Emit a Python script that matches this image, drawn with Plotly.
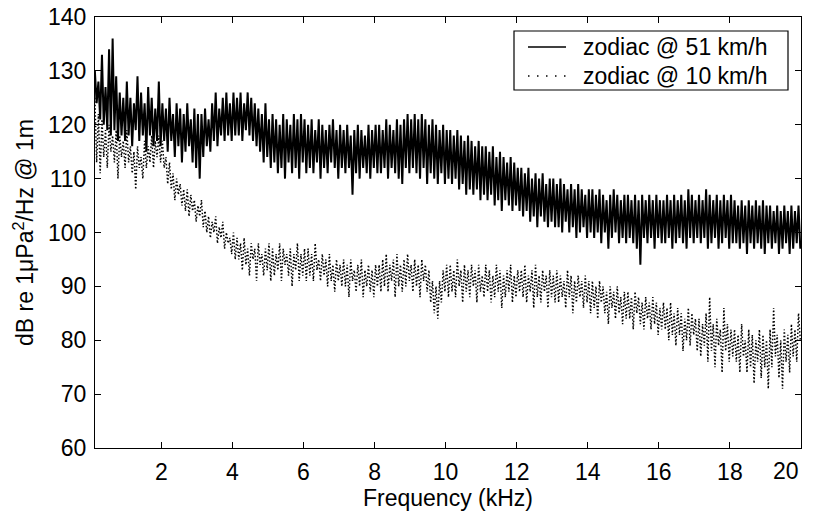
import numpy as np
import plotly.graph_objects as go

# frequency grid (kHz): first bin and bin spacing
F_START = 0.13
F_STEP = 0.05

# zodiac @ 51 km/h  (dB re 1uPa^2/Hz @ 1m)
db_51 = [
    130, 124, 128, 121, 133, 120, 127, 119, 134, 118, 136, 119, 129, 117, 126, 118, 125, 117, 128, 118,
    125, 116, 124, 119, 129, 117, 126, 118, 124, 115, 127, 118, 125, 116, 123, 117, 128, 116, 124, 117,
    123, 115, 125, 117, 122, 114, 124, 116, 123, 113, 122, 115, 124, 116, 121, 113, 123, 112, 122, 110,
    122, 114, 123, 116, 121, 115, 124, 117, 126, 116, 123, 118, 125, 117, 126, 118, 124, 117, 126, 118,
    125, 118, 126, 117, 124, 119, 126, 118, 125, 117, 124, 116, 123, 115, 122, 113, 124, 114, 121, 112,
    122, 113, 121, 111, 120, 112, 122, 110, 121, 113, 120, 111, 122, 112, 121, 110, 122, 113, 121, 111,
    120, 112, 121, 111, 119, 113, 121, 110, 120, 112, 119, 111, 120, 113, 121, 112, 119, 110, 120, 112,
    119, 111, 120, 112, 118, 107, 119, 111, 120, 110, 119, 112, 118, 111, 120, 110, 119, 112, 120, 111,
    120, 111, 119, 112, 121, 110, 120, 112, 119, 111, 121, 110, 120, 109, 121, 112, 122, 111, 121, 112,
    122, 111, 121, 110, 122, 112, 121, 109, 120, 111, 121, 110, 120, 109, 119, 111, 120, 109, 119, 110,
    119, 109, 118, 110, 119, 108, 118, 109, 117, 107, 118, 108, 117, 107, 116, 108, 117, 106, 116, 107,
    116, 106, 115, 107, 116, 105, 114, 106, 115, 104, 114, 106, 113, 105, 114, 104, 113, 105, 112, 104,
    112, 103, 111, 104, 112, 102, 110, 103, 111, 101, 110, 103, 111, 102, 109, 101, 110, 102, 110, 101,
    109, 101, 110, 100, 109, 102, 108, 100, 109, 101, 108, 99, 109, 100, 108, 101, 107, 99, 108, 100,
    108, 99, 107, 100, 108, 98, 107, 100, 106, 97, 107, 99, 108, 100, 107, 98, 106, 99, 107, 98,
    107, 99, 106, 98, 107, 97, 106, 94, 107, 99, 106, 98, 107, 99, 106, 97, 107, 99, 106, 98,
    106, 98, 107, 99, 106, 97, 107, 98, 106, 99, 107, 98, 106, 97, 108, 99, 107, 98, 106, 99,
    107, 98, 106, 99, 108, 97, 107, 98, 106, 99, 107, 97, 106, 98, 107, 99, 106, 97, 107, 98,
    106, 98, 105, 97, 106, 98, 105, 96, 106, 98, 105, 97, 106, 98, 105, 97, 106, 96, 105, 98,
    105, 97, 104, 98, 105, 96, 104, 97, 105, 98, 104, 96, 105, 97, 104, 98, 105, 97,
]

# zodiac @ 10 km/h
db_10 = [
    125, 113, 122, 111, 121, 114, 119, 112, 120, 115, 118, 113, 119, 110, 118, 114, 117, 112, 119, 113,
    116, 111, 115, 108, 116, 112, 114, 110, 117, 112, 116, 113, 118, 112, 117, 114, 118, 113, 117, 112,
    114, 109, 113, 108, 111, 106, 110, 107, 109, 105, 108, 104, 108, 103, 107, 104, 106, 102, 105, 103,
    106, 101, 104, 100, 103, 99, 102, 100, 103, 98, 101, 99, 102, 97, 100, 98, 99, 96, 100, 95,
    99, 95, 98, 93, 99, 94, 97, 92, 98, 95, 97, 91, 98, 94, 96, 92, 97, 93, 98, 91,
    97, 92, 96, 93, 98, 91, 97, 94, 96, 92, 97, 90, 96, 93, 98, 91, 96, 92, 97, 91,
    97, 92, 96, 91, 98, 93, 95, 91, 96, 92, 95, 90, 96, 91, 94, 89, 95, 91, 94, 90,
    95, 90, 94, 88, 95, 91, 93, 89, 94, 90, 95, 88, 93, 90, 94, 89, 93, 88, 94, 90,
    94, 89, 95, 90, 96, 89, 94, 91, 95, 88, 96, 90, 94, 89, 95, 90, 96, 91, 94, 89,
    95, 90, 94, 88, 95, 91, 94, 89, 93, 87, 91, 85, 90, 84, 91, 87, 93, 89, 94, 88,
    94, 89, 93, 88, 95, 90, 93, 87, 94, 89, 93, 88, 94, 90, 93, 87, 94, 89, 92, 88,
    94, 89, 93, 87, 92, 88, 94, 89, 93, 86, 92, 88, 93, 89, 94, 87, 92, 88, 93, 89,
    93, 88, 94, 87, 92, 89, 93, 86, 94, 88, 92, 87, 93, 89, 92, 86, 93, 88, 92, 87,
    93, 87, 92, 88, 91, 86, 93, 88, 92, 85, 91, 87, 92, 88, 91, 86, 92, 87, 91, 85,
    91, 86, 90, 84, 91, 87, 90, 85, 89, 83, 90, 86, 89, 84, 90, 85, 88, 83, 89, 84,
    89, 84, 88, 82, 89, 85, 88, 83, 87, 82, 88, 84, 87, 82, 88, 83, 87, 81, 86, 82,
    87, 82, 86, 80, 87, 81, 85, 79, 86, 81, 85, 78, 84, 80, 86, 79, 85, 81, 84, 78,
    84, 77, 83, 79, 85, 76, 88, 78, 83, 75, 84, 79, 82, 74, 86, 78, 83, 76, 82, 77,
    82, 76, 81, 74, 83, 77, 80, 74, 82, 75, 81, 72, 80, 76, 82, 73, 81, 75, 80, 71,
    82, 75, 86, 77, 81, 73, 80, 71, 82, 76, 81, 74, 83, 77, 82, 76, 85, 80,
]

x_ticks = [2, 4, 6, 8, 10, 12, 14, 16, 18, 20]
y_ticks = [60, 70, 80, 90, 100, 110, 120, 130, 140]
series_names = ["zodiac @ 51 km/h", "zodiac @ 10 km/h"]

freq_51 = F_START + F_STEP * np.arange(len(db_51))
freq_10 = F_START + F_STEP * np.arange(len(db_10))

FONT = "Liberation Sans, Arial, Helvetica, sans-serif"
FS = 23

fig = go.Figure()
fig.add_trace(go.Scatter(
    x=freq_51, y=db_51, mode="lines", name=series_names[0],
    line=dict(color="black", width=2.0),
))
fig.add_trace(go.Scatter(
    x=freq_10, y=db_10, mode="lines", name=series_names[1],
    line=dict(color="black", width=1.5, dash="1.5px,2px"),
))

axis_common = dict(
    showgrid=False, zeroline=False, showline=True, linecolor="black", linewidth=1,
    mirror="ticks", ticks="inside", ticklen=6, tickwidth=1, tickcolor="black",
    tickfont=dict(family=FONT, size=FS, color="black"), automargin=False,
)

# plot-area pixel geometry -> paper coords helpers for the hand-drawn legend
L, R, T, B = 95, 15, 17, 65
W, H = 816, 513
PW, PH = W - L - R, H - T - B
def px(xp):
    return (xp - L) / PW
def py(yp):
    return (H - B - yp) / PH

shapes = [
    dict(type="rect", xref="paper", yref="paper", x0=px(514), x1=px(788), y0=py(90), y1=py(31),
         line=dict(color="black", width=1.2), fillcolor="white", layer="above"),
    dict(type="line", xref="paper", yref="paper", x0=px(528), x1=px(566), y0=py(47), y1=py(47),
         line=dict(color="black", width=1.4), layer="above"),
    dict(type="line", xref="paper", yref="paper", x0=px(528), x1=px(566), y0=py(76), y1=py(76),
         line=dict(color="black", width=1.4, dash="1.5px,7.5px"), layer="above"),
]
annotations = [
    dict(xref="paper", yref="paper", x=px(581), y=py(47), text=series_names[0], showarrow=False,
         xanchor="left", yanchor="middle", font=dict(family=FONT, size=FS, color="black")),
    dict(xref="paper", yref="paper", x=px(581), y=py(76), text=series_names[1], showarrow=False,
         xanchor="left", yanchor="middle", font=dict(family=FONT, size=FS, color="black")),
    # last x tick label sits flush with the right end of the axis
    dict(xref="paper", yref="paper", x=1.0, y=py(471), text=str(x_ticks[-1]), showarrow=False,
         xanchor="right", yanchor="middle", font=dict(family=FONT, size=FS, color="black")),
]

fig.update_layout(
    width=W, height=H,
    margin=dict(l=L, r=R, t=T, b=B, autoexpand=False),
    paper_bgcolor="white", plot_bgcolor="white",
    font=dict(family=FONT, size=FS, color="black"),
    showlegend=False,
    shapes=shapes, annotations=annotations,
)
fig.update_xaxes(
    range=[0.134, 20], tickvals=x_ticks[:-1],
    ticktext=[str(v) for v in x_ticks[:-1]],
    ticklabelstandoff=3,
    title=dict(text="Frequency (kHz)", font=dict(family=FONT, size=FS), standoff=2),
    **axis_common,
)
fig.update_yaxes(
    range=[60, 140], tickvals=y_ticks, ticktext=[str(v) for v in y_ticks],
    ticklabelstandoff=3,
    title=dict(text="dB re 1μPa<sup>2</sup>/Hz @ 1m", font=dict(family=FONT, size=FS), standoff=7),
    **axis_common,
)

fig.write_html(
    "out.html",
    config={"displayModeBar": False},
    post_script="document.body.style.margin='0';document.body.style.overflow='hidden';",
)
